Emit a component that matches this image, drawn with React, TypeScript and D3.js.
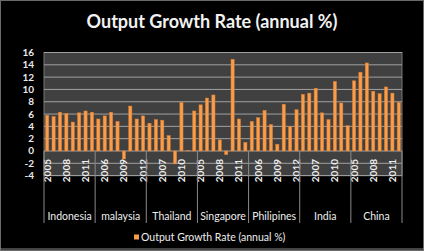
import React from "react";
import * as d3 from "d3";

const countries = ["Indonesia", "malaysia", "Thailand", "Singapore", "Philipines", "India", "China"];
const years = ["2005", "2006", "2007", "2008", "2009", "2010", "2011", "2012"];
const indonesia = [5.8, 5.6, 6.3, 6.1, 4.7, 6.2, 6.5, 6.3];
const malaysia = [5.2, 5.7, 6.3, 4.8, -1.3, 7.3, 5.2, 5.7];
const thailand = [4.5, 5.1, 5.0, 2.5, -2.1, 7.9, 0.1, 6.5];
const singapore = [7.5, 8.6, 9.1, 1.8, -0.6, 14.9, 5.2, 1.4];
const philippines = [4.8, 5.4, 6.6, 4.3, 1.1, 7.6, 4.0, 6.7];
const india = [9.2, 9.4, 10.2, 6.2, 5.1, 11.3, 7.8, 4.1];
const china = [11.4, 12.8, 14.3, 9.7, 9.3, 10.4, 9.4, 7.9];
const seriesByCountry = [indonesia, malaysia, thailand, singapore, philippines, india, china];
const yTicks = [-4, -2, 0, 2, 4, 6, 8, 10, 12, 14, 16];
const seriesName = "Output Growth Rate (annual %)";

const W = 424, H = 251;
const left = 44, right = 402, top = 52.5, bottom = 175.6;
const font = "Lato, 'Open Sans', sans-serif";

export default function App() {
  const rows = countries.flatMap((c, ci) =>
    years.map((yr, yi) => ({ key: `${c}-${yr}`, country: c, year: yr, value: seriesByCountry[ci][yi], idx: ci * years.length + yi }))
  );
  const x = d3.scaleBand<string>().domain(rows.map(r => r.key)).range([left, right]).paddingInner(0.5).paddingOuter(0.25);
  const y = d3.scaleLinear().domain([-4, 16]).range([bottom, top]);
  const y0 = y(0);
  const groupEdges = countries.map((_, i) => left + (right - left) * (i / countries.length));
  groupEdges.push(right);

  return (
    <svg width={W} height={H} style={{ position: "absolute", left: 0, top: 0, background: "#000" }}>
      <rect x={0.5} y={0.5} width={W - 1} height={H - 1} fill="#000" stroke="#6a6a6a" />
      <text x={212} y={28} textAnchor="middle" fill="#f2f2f2" fontFamily={font} fontWeight={700} fontSize={18}>{seriesName}</text>
      <rect x={left} y={top} width={right - left} height={bottom - top} fill="#404040" stroke="#777" />
      {yTicks.map(t => (
        <g key={t}>
          <line x1={left} x2={right} y1={y(t)} y2={y(t)} stroke="#a0a0a0" strokeWidth={1} />
          <text x={34} y={y(t)} dy="0.35em" textAnchor="end" fill="#eaeaea" fontFamily={font} fontWeight={700} fontSize={10}>{t}</text>
        </g>
      ))}
      {rows.map(r => {
        const yv = y(r.value);
        return (
          <rect key={r.key} x={x(r.key)} width={x.bandwidth()} y={Math.min(yv, y0)} height={Math.abs(yv - y0)}
            fill="#f79d4c" stroke="#dc7b2e" strokeWidth={0.5} />
        );
      })}
      {rows.filter(r => r.idx % 3 === 0).map(r => {
        const cx = (x(r.key) as number) + x.bandwidth() / 2;
        return (
          <text key={"l" + r.key} transform={`translate(${cx},159) rotate(-90)`} textAnchor="end" dy="0.35em"
            fill="#eeeeee" fontFamily={font} fontWeight={700} fontSize={10}>{r.year}</text>
        );
      })}
      {groupEdges.map((gx, i) => (
        <line key={"g" + i} x1={gx} x2={gx} y1={y0} y2={223} stroke="#8a8a8a" strokeWidth={1} />
      ))}
      {countries.map((c, i) => (
        <text key={c} x={(groupEdges[i] + groupEdges[i + 1]) / 2} y={216} dy="0.35em" textAnchor="middle"
          fill="#eeeeee" fontFamily={font} fontSize={10.5}>{c}</text>
      ))}
      <rect x={134} y={234.5} width={5} height={5} fill="#f79d4c" />
      <text x={141} y={237} dy="0.35em" fill="#eeeeee" fontFamily={font} fontSize={10.5}>{seriesName}</text>
      <line x1={0} x2={W} y1={249} y2={249} stroke="#888" />
    </svg>
  );
}
